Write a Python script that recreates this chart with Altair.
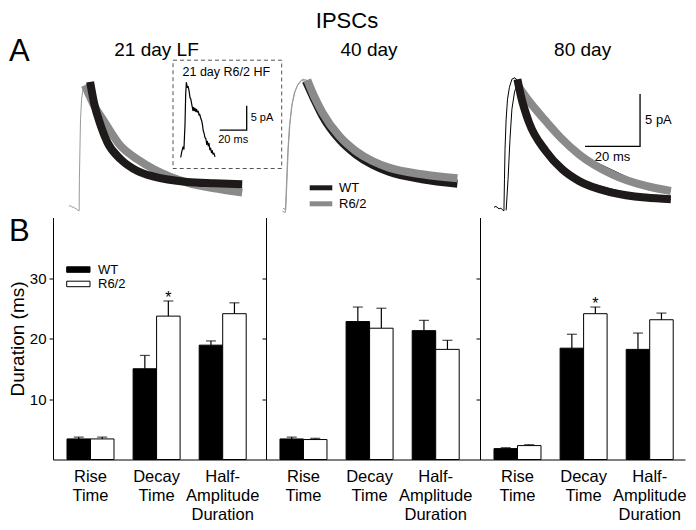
import altair as alt
import pandas as pd

FONT = "Liberation Sans"

# ---------------- Panel B: bar data (ms) ----------------
measures = ["Rise Time", "Decay Time", "Half-Amplitude Duration"]
genotypes = ["WT", "R6/2"]
ages = ["21 day LF", "40 day", "80 day"]

wt_mean = [[3.4, 15.0, 18.9], [3.4, 22.8, 21.3], [1.8, 18.4, 18.2]]
wt_sem = [[0.3, 2.2, 0.7], [0.3, 2.4, 1.7], [0.15, 2.3, 2.7]]
r62_mean = [[3.4, 23.7, 24.1], [3.3, 21.7, 18.2], [2.3, 24.1, 23.1]]
r62_sem = [[0.3, 2.5, 1.8], [0.2, 3.3, 1.5], [0.15, 1.1, 1.1]]
sig_star = [[False, True, False], [False, False, False], [False, True, False]]

# ---------------- Panel A: traces (time in ms, current in pA) ----------------
p1_thin_t = [5.8, 6.4, 6.9, 7.5, 8.0, 8.6, 9.1, 9.5, 9.6, 9.8, 10.0, 10.4, 10.9, 11.6, 12.7, 14.9, 18.6, 24.6, 30.6, 36.7, 48.7, 60.7, 68.7]
p1_thin_i = [0.29, 0.35, 0.19, 0.22, 0.10, 0.02, -0.10, -0.14, 2.87, 5.73, 8.60, 10.51, 11.46, 11.84, 11.94, 10.51, 8.41, 6.02, 4.78, 3.82, 2.58, 1.91, 1.62]
p1_wt_t = [13.5, 14.9, 17.4, 19.8, 24.6, 30.7, 36.7, 48.8, 58.6, 68.8]
p1_wt_i = [12.16, 10.19, 7.96, 6.37, 4.78, 3.66, 3.12, 2.61, 2.48, 2.39]
p1_r62_t = [11.6, 14.9, 18.6, 24.6, 30.7, 36.7, 48.8, 61.0, 68.8]
p1_r62_i = [11.84, 9.93, 8.40, 6.05, 4.78, 3.82, 2.55, 1.91, 1.60]

p2_thin1_t = [6.2, 7.2, 7.5, 7.8, 8.1, 8.7, 9.5, 10.6, 11.6, 13.2, 14.9, 17.5, 20.4, 26.6, 38.6, 56.7, 69.5]
p2_thin1_i = [0.10, -0.05, 1.91, 3.82, 5.73, 8.12, 10.03, 11.27, 11.94, 12.42, 12.32, 10.79, 9.26, 6.97, 4.58, 3.34, 2.96]
p2_thin2_t = [6.0, 7.0, 7.3, 7.6, 7.9, 8.5, 9.3, 10.3, 11.4, 13.0, 14.8, 17.5]
p2_thin2_i = [-0.20, -0.30, 1.50, 3.50, 5.40, 7.90, 9.80, 11.10, 11.80, 12.30, 12.20, 10.70]
p2_wt_t = [14.5, 17.5, 20.5, 26.6, 32.6, 38.7, 44.7, 56.8, 69.6]
p2_wt_i = [12.23, 10.51, 8.93, 6.69, 5.25, 4.25, 3.58, 2.87, 2.44]
p2_r62_t = [15.0, 17.5, 20.5, 26.6, 32.6, 38.7, 44.7, 56.8, 69.6]
p2_r62_i = [12.35, 10.79, 9.24, 7.00, 5.57, 4.61, 3.98, 3.34, 2.96]

p3_thin1_t = [5.1, 5.8, 6.9, 7.6, 8.4, 8.7, 8.9, 9.1, 9.5, 10.0, 10.7, 11.6, 12.7, 13.8, 14.9, 17.8, 23.9, 36.0, 60.3, 69.4]
p3_thin1_i = [0.19, 0.28, 0.05, 0.10, -0.10, -0.14, 2.87, 5.73, 8.60, 10.51, 11.65, 12.42, 12.56, 12.23, 10.79, 8.40, 5.57, 2.70, 1.12, 0.96]
p3_thin2_t = [9.5, 10.2, 10.9, 11.6, 12.6, 13.5, 14.6, 17.8, 23.9, 36.0, 60.3, 69.4]
p3_thin2_i = [-0.10, 2.87, 6.69, 9.55, 11.27, 11.84, 11.65, 10.32, 8.40, 5.25, 2.23, 1.75]
p3_wt_t = [13.6, 14.9, 17.8, 23.9, 29.9, 36.0, 48.1, 60.3, 69.4]
p3_wt_i = [12.42, 10.79, 8.31, 5.57, 3.82, 2.70, 1.60, 1.12, 0.96]
p3_r62_t = [14.2, 17.8, 23.9, 29.9, 36.0, 48.1, 60.3, 69.4]
p3_r62_i = [11.65, 10.34, 8.43, 6.69, 5.25, 3.34, 2.23, 1.75]

# inset: 21 day R6/2 HF example trace
inset_t = [0, 0.7, 1.7, 2.4, 3.2, 3.7, 4.2, 4.9, 5.5, 6.2, 6.9, 7.5, 8.2, 9.1, 9.6, 10.1, 10.6, 11.2, 11.8, 12.3, 13.0, 13.6, 14.1,
           14.8, 15.6, 16.2, 16.7, 17.3, 18.0, 18.6, 19.3, 19.8, 20.4, 21.0, 21.6, 22.2, 22.8, 23.4, 23.9, 24.6, 25.4]
inset_i = [0, 1.03, 2.20, 1.70, 6.84, 13.0, 15.4, 14.4, 14.6, 13.7, 12.3, 12.0, 10.9, 9.6, 10.3, 9.6, 10.1, 9.4, 9.9, 9.3, 9.5, 8.7, 8.9,
           8.1, 7.5, 6.6, 5.5, 5.0, 4.1, 3.9, 2.7, 3.3, 2.4, 2.9, 1.6, 1.9, 1.0, 1.4, 0.7, 0.9, 0.14]

scale_ms = 20
scale_pA = 5
p3_bar_corner = (58.2, 6.0)
inset_bar_corner = (48.9, 5.6)

# ---------------- layout constants ----------------
PX_MS = 2.75
TRACE_H = 154
Y_DOM = [-0.4, 14.3]
BAR_H = 242
WIDTHS = [213, 214, 205]
INSET_X_DOM = [-94.6, 63.2]
INSET_Y_DOM = [-11.5, 20.12]

BLACK_FIT = "#1e1a1a"
GREY_FIT = "#8a8a8a"
THIN_GREY = "#9a9a9a"


def sc(dom):
    return alt.Scale(domain=dom, nice=False, zero=False)


def line_layer(t, i, color, width, xdom, ydom, interp="linear"):
    df = pd.DataFrame({"t": t, "i": i, "k": list(range(len(t)))})
    return alt.Chart(df).mark_line(color=color, strokeWidth=width, strokeCap="butt",
                                   strokeJoin="round", interpolate=interp).encode(
        x=alt.X("t:Q", scale=sc(xdom), axis=None),
        y=alt.Y("i:Q", scale=sc(ydom), axis=None),
        order="k:Q")


def text_value(txt, x, y, size, align="center", baseline="alphabetic", color="black"):
    return alt.Chart(pd.DataFrame({"s": [txt]})).mark_text(
        align=align, baseline=baseline, fontSize=size, font=FONT, color=color).encode(
        x=alt.value(x), y=alt.value(y), text="s:N")


def scale_bar(corner, xdom, ydom, fs, dx_lab, dy_lab):
    cx, cy = corner
    df = pd.DataFrame({"t": [cx - scale_ms, cx, cx], "i": [cy, cy, cy + scale_pA], "k": [0, 1, 2]})
    bar = alt.Chart(df).mark_line(color="black", strokeWidth=1.3).encode(
        x=alt.X("t:Q", scale=sc(xdom), axis=None),
        y=alt.Y("i:Q", scale=sc(ydom), axis=None), order="k:Q")
    lab = pd.DataFrame({"t": [cx, cx - scale_ms / 2], "i": [cy + scale_pA / 2, cy],
                        "s": [f"{scale_pA} pA", f"{scale_ms} ms"]})
    l1 = alt.Chart(lab.iloc[[0]]).mark_text(align="left", baseline="middle", dx=dx_lab, fontSize=fs, font=FONT).encode(
        x=alt.X("t:Q", scale=sc(xdom), axis=None), y=alt.Y("i:Q", scale=sc(ydom), axis=None), text="s:N")
    l2 = alt.Chart(lab.iloc[[1]]).mark_text(align="center", baseline="middle", dy=dy_lab, fontSize=fs, font=FONT).encode(
        x=alt.X("t:Q", scale=sc(xdom), axis=None), y=alt.Y("i:Q", scale=sc(ydom), axis=None), text="s:N")
    return [bar, l1, l2]


# ---------------- Trace panels ----------------
xd1 = [0, WIDTHS[0] / PX_MS]
xd2 = [0, WIDTHS[1] / PX_MS]
xd3 = [0, WIDTHS[2] / PX_MS]

main1 = alt.layer(
    line_layer(p1_thin_t, p1_thin_i, THIN_GREY, 1, xd1, Y_DOM),
    line_layer(p1_r62_t, p1_r62_i, GREY_FIT, 8, xd1, Y_DOM, "monotone"),
    line_layer(p1_wt_t, p1_wt_i, BLACK_FIT, 8, xd1, Y_DOM, "monotone"),
)
inset_layers = [line_layer(inset_t, inset_i, "black", 1.2, INSET_X_DOM, INSET_Y_DOM)]
inset_layers += scale_bar(inset_bar_corner, INSET_X_DOM, INSET_Y_DOM, 11, 4, 10)
inset_box = alt.Chart(pd.DataFrame({"s": ["box"]})).mark_rect(
    fill=None, stroke="#555555", strokeWidth=1, strokeDash=[4, 3]).encode(
    x=alt.value(120), x2=alt.value(228.7), y=alt.value(0.7), y2=alt.value(109))
inset = alt.layer(*inset_layers, inset_box, text_value("21 day R6/2 HF", 173.3, 16.3, 12.5))

trace1 = alt.layer(
    main1, inset,
    text_value(ages[0], 103.5, -3.3, 19),
    text_value("A", -44, 1.7, 31, align="left"),
).resolve_scale(x="independent", y="independent").properties(width=WIDTHS[0], height=TRACE_H)

leg_layers = []
for idx, (g, col) in enumerate(zip(genotypes, [BLACK_FIT, GREY_FIT])):
    yy = 128.3 + idx * 16
    leg_layers.append(alt.Chart(pd.DataFrame({"g": [g]})).mark_rule(color=col, strokeWidth=5).encode(
        x=alt.value(43.7), x2=alt.value(66.3), y=alt.value(yy)))
    leg_layers.append(text_value(g, 73, yy, 13, align="left", baseline="middle"))

trace2 = alt.layer(
    line_layer(p2_thin2_t, p2_thin2_i, THIN_GREY, 1, xd2, Y_DOM),
    line_layer(p2_thin1_t, p2_thin1_i, THIN_GREY, 1, xd2, Y_DOM),
    line_layer(p2_wt_t, p2_wt_i, BLACK_FIT, 8, xd2, Y_DOM, "monotone"),
    line_layer(p2_r62_t, p2_r62_i, GREY_FIT, 8, xd2, Y_DOM, "monotone"),
    *leg_layers,
    text_value(ages[1], 103, -3.3, 19),
    text_value("IPSCs", 81, -31.2, 22),
).properties(width=WIDTHS[1], height=TRACE_H)

trace3 = alt.layer(
    line_layer(p3_thin1_t, p3_thin1_i, "black", 1, xd3, Y_DOM),
    line_layer(p3_thin2_t, p3_thin2_i, "black", 1, xd3, Y_DOM),
    line_layer(p3_r62_t, p3_r62_i, GREY_FIT, 8, xd3, Y_DOM, "monotone"),
    line_layer(p3_wt_t, p3_wt_i, BLACK_FIT, 8, xd3, Y_DOM, "monotone"),
    *scale_bar(p3_bar_corner, xd3, Y_DOM, 13, 5, 11),
    text_value(ages[2], 102.6, -3.3, 19),
).properties(width=WIDTHS[2], height=TRACE_H)


# ---------------- Bar panels ----------------
def bar_panel(k, width, p_outer, align, first):
    rows = []
    for j, m in enumerate(measures):
        rows.append(dict(measure=m, genotype="WT", mean=wt_mean[k][j],
                         hi=wt_mean[k][j] + wt_sem[k][j], star=""))
        rows.append(dict(measure=m, genotype="R6/2", mean=r62_mean[k][j],
                         hi=r62_mean[k][j] + r62_sem[k][j], star="*" if sig_star[k][j] else ""))
    df = pd.DataFrame(rows)
    base = alt.Chart(df)
    x = alt.X("measure:N", sort=measures,
              scale=alt.Scale(paddingInner=0.289, paddingOuter=p_outer, align=align),
              axis=alt.Axis(title=None, labelAngle=0,
                            labelExpr="split(replace(datum.label, '-', '- '), ' ')",
                            ticks=False, tickSize=0, labelPadding=9, labelFontSize=16.5,
                            labelLineHeight=19, labelFont=FONT, labelColor="black",
                            domainColor="black", domainWidth=1))
    yax = alt.Axis(values=[10, 20, 30], grid=False, tickSize=4, tickColor="black",
                   domainColor="black", domainWidth=1, labelFont=FONT, labelColor="black",
                   labelFontSize=15, labelPadding=3,
                   title="Duration (ms)" if first else None, titleFont=FONT,
                   titleFontSize=19, titleFontWeight="normal", titleColor="black",
                   titlePadding=2, labels=first)
    y = alt.Y("mean:Q", scale=alt.Scale(domain=[0, 40], nice=False), axis=yax)
    xo = alt.XOffset("genotype:N", sort=genotypes, scale=alt.Scale(paddingInner=0, paddingOuter=0))
    bars = base.mark_bar(stroke="black", strokeWidth=1).encode(
        x=x, xOffset=xo, y=y,
        fill=alt.Fill("genotype:N", scale=alt.Scale(domain=genotypes, range=["black", "white"]), legend=None))
    err = base.mark_rule(color="black", strokeWidth=1.2).encode(
        x=x, xOffset=xo, y=alt.Y("mean:Q"), y2="hi:Q")
    cap = base.mark_tick(orient="horizontal", size=10, thickness=1.2, color="black").encode(
        x=x, xOffset=xo, y=alt.Y("hi:Q"))
    star = base.mark_text(baseline="alphabetic", dy=2, fontSize=16, font=FONT, color="black").encode(
        x=x, xOffset=xo, y=alt.Y("hi:Q"), text="star:N")
    layers = [err, cap, bars, star]
    if first:
        for idx, (g, f) in enumerate(zip(genotypes, ["black", "white"])):
            y0 = 49.3 + idx * 14.4
            layers.append(alt.Chart(pd.DataFrame({"g": [g]})).mark_rect(
                fill=f, stroke="black", strokeWidth=1).encode(
                x=alt.value(13.7), x2=alt.value(37), y=alt.value(y0), y2=alt.value(y0 + 5.5)))
            layers.append(text_value(g, 45, y0 + 3, 13, align="left", baseline="middle"))
        layers.append(text_value("B", -44, 23.7, 31, align="left"))
    return alt.layer(*layers).properties(width=width, height=BAR_H)


bar1 = bar_panel(0, WIDTHS[0], 0.2557, 0.414, True)
bar2 = bar_panel(1, WIDTHS[1], 0.263, 0.402, False)
bar3 = bar_panel(2, WIDTHS[2], 0.195, 0.543, False)

chart = alt.concat(
    trace1, trace2, trace3, bar1, bar2, bar3,
    columns=3, spacing={"row": 4, "column": 0}, bounds="flush",
).properties(
    padding={"left": 0, "top": 1.5, "right": 0, "bottom": 0}
).configure(font=FONT).configure_view(stroke=None)

chart.save("out.html", embed_options={"renderer": "svg", "actions": False})
